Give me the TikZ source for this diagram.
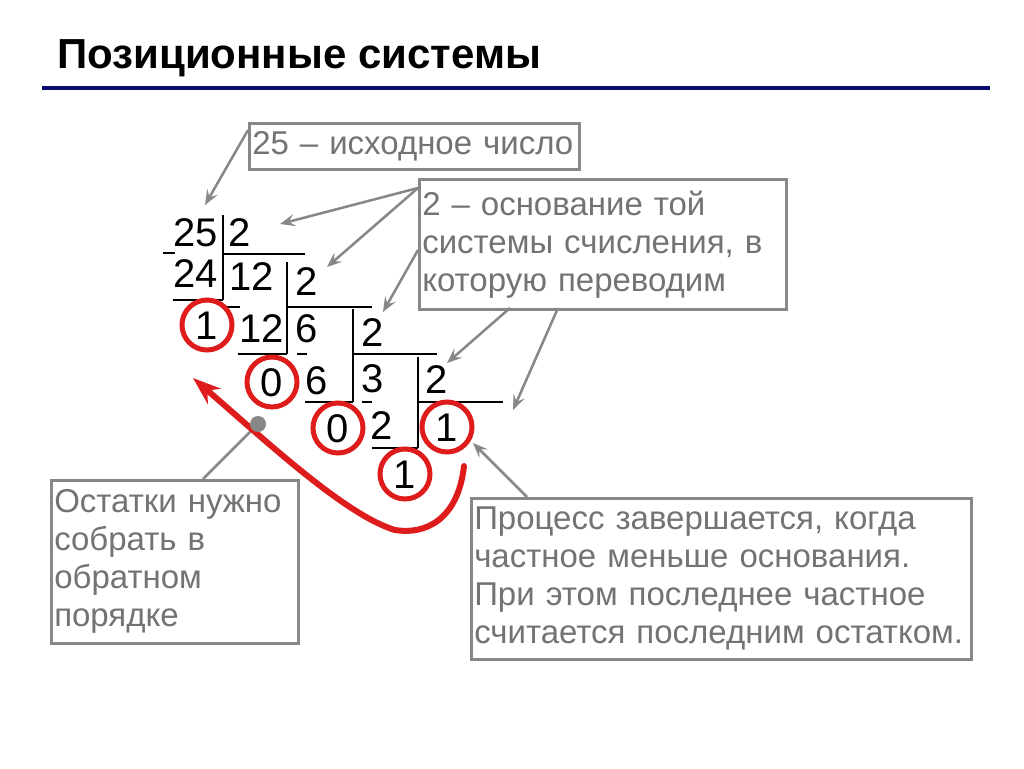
\documentclass[tikz,border=0pt]{standalone}
\usepackage{fontspec}
\setmainfont{Liberation Sans}
\usetikzlibrary{arrows.meta}
\definecolor{cgray}{RGB}{115,115,115}
\definecolor{bgray}{RGB}{135,135,135}
\definecolor{cred}{RGB}{222,28,28}
\definecolor{navyline}{RGB}{10,10,110}
\begin{document}
\begin{tikzpicture}[x=1pt,y=-1pt,
 dig/.style={inner sep=0pt, font=\fontsize{40}{42}\selectfont},
 box/.style={draw=bgray, line width=2.5pt, text=cgray, anchor=north west, inner sep=3pt, align=left, font=\fontsize{33}{38}\selectfont},
 divline/.style={line width=2pt, black},
 ring/.style={draw=cred, line width=5pt, circle, minimum size=50pt, inner sep=0pt},
 ptr/.style={draw=bgray, line width=2.5pt, -{Stealth[length=15pt,width=12pt,inset=6pt]}},
]
\useasboundingbox (0,0) rectangle (1024,768);
\fill[white] (0,0) rectangle (1024,768);

% title
\node[anchor=base west, inner sep=0pt, font=\fontsize{42}{42}\bfseries\selectfont] (title) at (57,68) {Позиционные системы};
\coordinate (hl) at (42,88); \coordinate (hr) at (990,88);
\draw[navyline, line width=4pt] (hl) -- (hr);

% callout boxes
\node[box, text width=324pt, minimum width=330pt, minimum height=46pt] (b1) at (248,122) {25 – исходное число};
\node[box, text width=361pt, minimum width=367pt, minimum height=130pt] (b2) at (418,178) {2 – основание той\\системы счисления, в\\которую переводим};
\node[box, text width=241pt, minimum width=247pt, minimum height=163pt] (b3) at (50,479) {Остатки нужно\\собрать в\\обратном\\порядке};
\node[box, text width=494pt, minimum width=500pt, minimum height=161pt] (b4) at (470,497) {Процесс завершается, когда\\частное меньше основания.\\При этом последнее частное\\считается последним остатком.};

% digits
\node[dig] (n25) at (196,233) {25};
\node[dig] (d1) at (240,233) {2};
\node[dig] (n24) at (196,274) {24};
\node[dig] (q1) at (252,277) {12};
\node[dig] (d2) at (307,282) {2};
\node[dig] (r1) at (207,326) {1};
\node[dig] (n12) at (262,329) {12};
\node[dig] (q2) at (307,329) {6};
\node[dig] (d3) at (373,333) {2};
\node[dig] (r2) at (272,383) {0};
\node[dig] (n6) at (317,381) {6};
\node[dig] (q3) at (373,379) {3};
\node[dig] (d4) at (437,380) {2};
\node[dig] (r3) at (338,429) {0};
\node[dig] (n2) at (382,426) {2};
\node[dig] (q4) at (447,428) {1};
\node[dig] (r4) at (405,475) {1};

% division lines
\draw[divline] (223,215) -- (223,300);
\draw[divline] (223,254) -- (305,254);
\draw[divline] (163,253) -- (175,253);
\draw[divline] (173,300) -- (223,300);
\draw[divline] (225,307) -- (240,307);
\draw[divline] (287,262) -- (287,354);
\draw[divline] (287,307) -- (372,307);
\draw[divline] (238,354) -- (287,354);
\draw[divline] (297,354) -- (307,354);
\draw[divline] (353,309) -- (353,402);
\draw[divline] (353,354) -- (437,354);
\draw[divline] (305,402) -- (353,402);
\draw[divline] (362,402) -- (372,402);
\draw[divline] (418,357) -- (418,448);
\draw[divline] (418,402) -- (503,402);
\draw[divline] (372,448) -- (418,448);

% rings
\node[ring] (c1) at (207,325) {};
\node[ring] (c2) at (272,382) {};
\node[ring] (c3) at (338,428) {};
\node[ring] (c4) at (447,427) {};
\node[ring] (c5) at (405,474) {};

% pointer arrows
\coordinate (s1) at (248,130); \coordinate (t1) at (205,205);
\coordinate (s2) at (418,188); \coordinate (t2) at (280,224);
\coordinate (t3) at (327,267);
\coordinate (s4) at (418,250); \coordinate (t4) at (383,312);
\coordinate (s5) at (510,308); \coordinate (t5) at (447,363);
\coordinate (s6) at (558,308); \coordinate (t6) at (513,410);
\coordinate (s7) at (527,497); \coordinate (t7) at (473,443);
\draw[ptr] (s1) -- (t1);
\draw[ptr] (s2) -- (t2);
\draw[ptr] (s2) -- (t3);
\draw[ptr] (s4) -- (t4);
\draw[ptr] (s5) -- (t5);
\draw[ptr] (s6) -- (t6);
\draw[ptr] (s7) -- (t7);

% collecting arrow
\coordinate (b3t) at (203,479);
\coordinate (cs) at (464,466);
\coordinate (cb) at (395,530);
\coordinate (ce) at (193,378);
\draw[bgray, line width=2.5pt] (258,424) -- (b3t);
\draw[cred, line width=6pt, line cap=round, -{Stealth[length=28pt,width=20pt,inset=9pt]}] (cs) .. controls (458,520) and (425,535) .. (cb) .. controls (345,515) and (265,440) .. (ce);
\node[circle, fill=bgray, minimum size=16pt, inner sep=0pt] (dot) at (258,424) {};
\end{tikzpicture}
\end{document}
